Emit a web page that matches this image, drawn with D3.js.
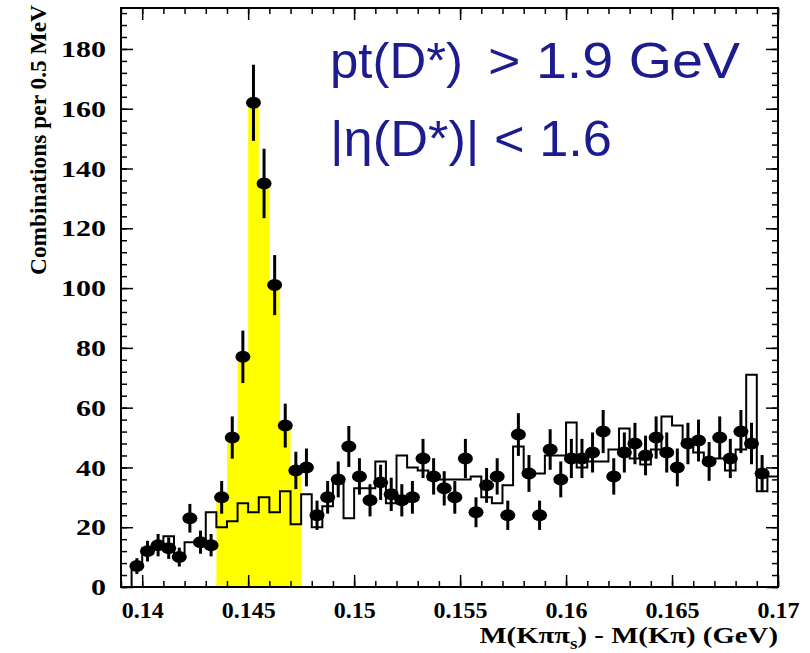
<!DOCTYPE html>
<html lang="en">
<head>
    <meta charset="utf-8"/>
    <title>D* mass difference</title>
    <script src="https://d3js.org/d3.v7.min.js"></script>
    <style>
        body { margin: 0; background: #fff; }
        .tick text { font-family: "Liberation Serif", serif; font-weight: bold; font-size: 24px; fill: #000; }
        .tick line { stroke: #000; stroke-width: 1.5px; }
    </style>
</head>
<body>
<div id="viz">
    <svg width="810" height="653"></svg>
</div>

<script type="text/javascript">

    // bins of 0.5 MeV, the first one starts at 0.1395 GeV
    const binStart = 0.1395, binWidth = 0.0005;

    // data points (one per bin, from 0.13975)
    const dataCounts = [7, 12, 14, 13, 10, 23, 15, 14, 30, 50,
        77, 162, 135, 101, 54, 39, 40, 24, 30, 36,
        47, 37, 29, 35, 31, 29, 30, 43, 37, 33,
        30, 43, 25, 34, 37, 24, 51, 38, 24, 46,
        36, 43, 43, 45, 52, 37, 45, 48, 44, 50,
        45, 40, 48, 49, 42, 50, 43, 52, 48, 38];

    // background histogram (black step line)
    const bgCounts = [7, 13, 14, 17, 11, 15, 15, 25, 20, 22,
        28, 25, 30, 25, 32, 21, 31, 20, 27, 35,
        23, 33, 33, 42, 28, 44, 40, 39, 36, 36,
        36, 36, 37, 30, 28, 34, 47, 38, 38, 44,
        44, 55, 40, 42, 42, 46, 53, 43, 41, 46,
        57, 54, 48, 45, 43, 43, 39, 46, 71, 32, 37];

    // signal window filled in yellow (bin indices)
    const signalBins = [8, 15];

    // ticks
    const xMajorTicks = [0.14, 0.145, 0.15, 0.155, 0.16, 0.165, 0.17];
    const yMajorTicks = [0, 20, 40, 60, 80, 100, 120, 140, 160, 180];

    const svg = d3.select("svg");

    // escalas
    const x = d3.scaleLinear().domain([0.139, 0.17]).range([121, 778]);
    const y = d3.scaleLinear().domain([0, 193.7]).range([587, 8]);

    const xMinorTicks = d3.range(139, 171).map(d => d / 1000);
    const yMinorTicks = d3.range(0, 194, 4);

    function binLo(i) { return binStart + i * binWidth; }

    // yellow signal region, step shape following the data
    const sig = d3.range(signalBins[0], signalBins[1] + 1);
    let sigPts = [[binLo(sig[0]), 0]];
    sig.forEach(i => {
        sigPts.push([binLo(i), dataCounts[i]]);
        sigPts.push([binLo(i + 1), dataCounts[i]]);
    });
    sigPts.push([binLo(sig[sig.length - 1] + 1), 0]);

    svg.append("path")
        .attr("d", d3.line().x(d => x(d[0])).y(d => y(d[1]))(sigPts) + "Z")
        .attr("fill", "#ffff00");

    // background histogram as a step line
    let bgPts = [[binLo(0), 0]];
    bgCounts.forEach((v, i) => {
        bgPts.push([binLo(i), v]);
        bgPts.push([binLo(i + 1), v]);
    });

    svg.append("path")
        .attr("d", d3.line().x(d => x(d[0])).y(d => y(d[1]))(bgPts))
        .attr("fill", "none")
        .attr("stroke", "#000")
        .attr("stroke-width", 2);

    // error bars (sqrt N) and markers
    const pts = svg.append("g").attr("id", "points");
    pts.selectAll("line")
        .data(dataCounts).enter()
        .append("line")
        .attr("x1", (d, i) => x(binLo(i) + binWidth / 2))
        .attr("x2", (d, i) => x(binLo(i) + binWidth / 2))
        .attr("y1", d => y(d + Math.sqrt(d)))
        .attr("y2", d => y(Math.max(d - Math.sqrt(d), 0)))
        .attr("stroke", "#000")
        .attr("stroke-width", 3);

    pts.selectAll("ellipse")
        .data(dataCounts).enter()
        .append("ellipse")
        .attr("cx", (d, i) => x(binLo(i) + binWidth / 2))
        .attr("cy", d => y(d))
        .attr("rx", 7.5)
        .attr("ry", 6)
        .attr("fill", "#000");

    // ejes: ticks hacia adentro en los cuatro lados
    function drawAxis(axis, tx, ty) {
        return svg.append("g")
            .attr("transform", "translate(" + tx + "," + ty + ")")
            .call(axis)
            .call(g => g.select(".domain").remove());
    }

    drawAxis(d3.axisBottom(x).tickValues(xMajorTicks).tickSizeInner(-12).tickSizeOuter(0)
        .tickPadding(14).tickFormat(d => String(d)), 0, 587);
    drawAxis(d3.axisBottom(x).tickValues(xMinorTicks).tickSizeInner(-6).tickSizeOuter(0)
        .tickFormat(""), 0, 587);
    drawAxis(d3.axisTop(x).tickValues(xMajorTicks).tickSizeInner(-12).tickSizeOuter(0)
        .tickFormat(""), 0, 8);
    drawAxis(d3.axisTop(x).tickValues(xMinorTicks).tickSizeInner(-6).tickSizeOuter(0)
        .tickFormat(""), 0, 8);

    // the y labels are drawn wide, as in the original
    drawAxis(d3.axisLeft(y).tickValues(yMajorTicks).tickSizeInner(-12).tickSizeOuter(0)
        .tickPadding(15), 121, 0)
        .selectAll(".tick text")
        .attr("x", -15 / 1.25)
        .attr("transform", "scale(1.25,1)");
    drawAxis(d3.axisLeft(y).tickValues(yMinorTicks).tickSizeInner(-6).tickSizeOuter(0)
        .tickFormat(""), 121, 0);
    drawAxis(d3.axisRight(y).tickValues(yMajorTicks).tickSizeInner(-12).tickSizeOuter(0)
        .tickFormat(""), 778, 0);
    drawAxis(d3.axisRight(y).tickValues(yMinorTicks).tickSizeInner(-6).tickSizeOuter(0)
        .tickFormat(""), 778, 0);

    // marco
    svg.append("rect")
        .attr("x", 121).attr("y", 8)
        .attr("width", 778 - 121).attr("height", 587 - 8)
        .attr("fill", "none")
        .attr("stroke", "#000")
        .attr("stroke-width", 2);

    // titulos de ejes
    svg.append("text")
        .attr("transform", "translate(46,140) rotate(-90)")
        .attr("text-anchor", "middle")
        .attr("textLength", 270)
        .attr("lengthAdjust", "spacingAndGlyphs")
        .style("font-family", "Liberation Serif")
        .style("font-weight", "bold")
        .style("font-size", "23px")
        .text("Combinations per 0.5 MeV");

    const xt = svg.append("text")
        .attr("transform", "translate(778,643) scale(1.2,1)")
        .attr("text-anchor", "end")
        .style("font-family", "Liberation Serif")
        .style("font-weight", "bold")
        .style("font-size", "24px");
    xt.append("tspan").text("M(Kππ");
    xt.append("tspan").attr("dy", 6).style("font-size", "16px").text("s");
    xt.append("tspan").attr("dy", -6).text(") - M(Kπ) (GeV)");

    // cortes
    const blue = "#1c1c8f";
    const label = svg.append("g")
        .style("font-family", "Liberation Sans")
        .style("font-size", "50px")
        .style("fill", blue)
        .attr("lengthAdjust", "spacingAndGlyphs");
    label.append("text").attr("x", 330).attr("y", 78)
        .attr("textLength", 133).attr("lengthAdjust", "spacingAndGlyphs").text("pt(D*)");
    label.append("text").attr("x", 488).attr("y", 78)
        .attr("textLength", 252).attr("lengthAdjust", "spacingAndGlyphs").text("> 1.9 GeV");
    label.append("text").attr("x", 330).attr("y", 156)
        .attr("textLength", 282).attr("lengthAdjust", "spacingAndGlyphs").text("|η(D*)| < 1.6");

</script>
</body>
</html>
